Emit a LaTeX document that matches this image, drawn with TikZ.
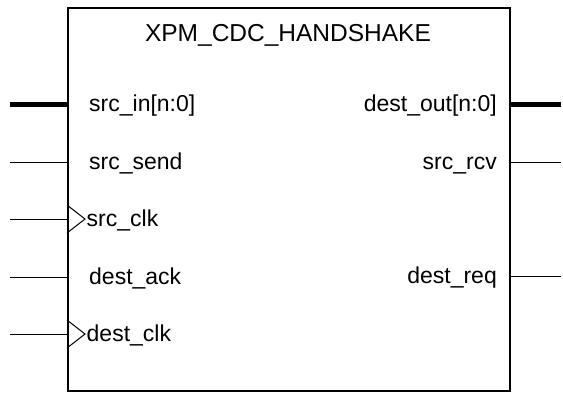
\documentclass[tikz,border=0pt]{standalone}
\usepackage{fontspec}
\setmainfont{Liberation Sans}
\usetikzlibrary{positioning,calc}

\tikzset{
    pinline/.style={line width=1pt},
    busline/.style={line width=5pt},
    pintext/.style={font=\fontsize{23}{27}\selectfont, inner sep=0pt},
    titletext/.style={font=\fontsize{24.5}{29}\selectfont, inner sep=0pt}
}

\begin{document}
\begin{tikzpicture}[x=1pt,y=-1pt]
\useasboundingbox (0,0) rectangle (563,392);
\node[draw, line width=2pt, minimum width=442pt, minimum height=383pt, inner sep=0pt, anchor=north west] (blk) at (67,7) {};
\node[titletext, anchor=base] (title) at (288,41) {XPM\_CDC\_HANDSHAKE};

% inputs
\foreach \y/\nm/\txt in {162/send/src\_send, 277/ack/dest\_ack} {
    \coordinate (in-\nm) at (10,\y);
    \node[pintext, anchor=base west] (lbl-\nm) at (89,\y+7) {\txt};
    \draw[pinline] (in-\nm) -- (blk.west |- in-\nm);
}
\coordinate (in-data) at (10,104);
\node[pintext, anchor=base west] (lbl-data) at (89,111) {src\_in[n:0]};
\draw[busline] (in-data) -- (blk.west |- in-data);

% clocks
\foreach \y/\nm/\txt in {219/sclk/src\_clk, 334/dclk/dest\_clk} {
    \coordinate (in-\nm) at (10,\y);
    \node[pintext, anchor=base west] (lbl-\nm) at (86.5,\y+7) {\txt};
    \draw[pinline] (in-\nm) -- (blk.west |- in-\nm);
    \draw[pinline] ($(blk.west |- in-\nm)+(0,-14)$) -- ++(18,14) -- ++(-18,14);
}

% outputs
\foreach \y/\nm/\txt in {162/rcv/src\_rcv, 276/req/dest\_req} {
    \coordinate (out-\nm) at (561,\y);
    \node[pintext, anchor=base east] (lbl-\nm) at (497,\y+7) {\txt};
    \draw[pinline] (blk.east |- out-\nm) -- (out-\nm);
}
\coordinate (out-data) at (561,104);
\node[pintext, anchor=base east] (lbl-dout) at (497,111) {dest\_out[n:0]};
\draw[busline] (blk.east |- out-data) -- (out-data);
\end{tikzpicture}
\end{document}
